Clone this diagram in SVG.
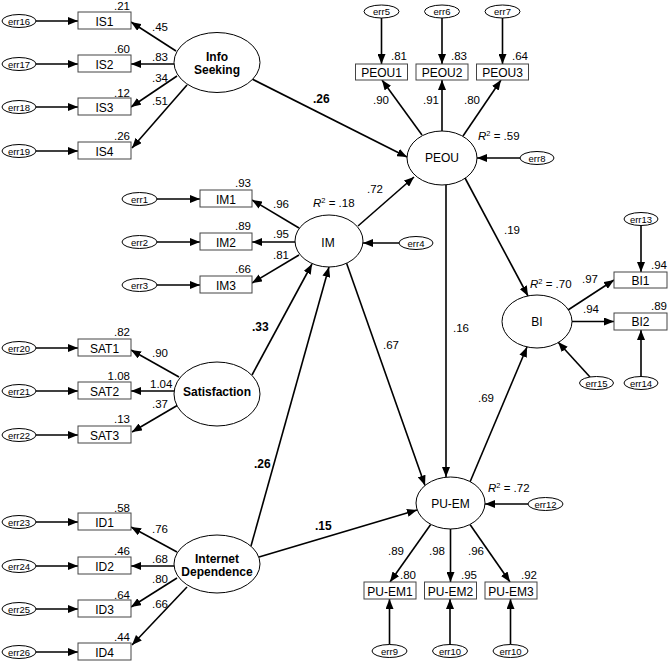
<svg xmlns="http://www.w3.org/2000/svg" width="668" height="661" viewBox="0 0 668 661">
<defs>
<marker id="ah" markerWidth="10" markerHeight="8" refX="10" refY="4" orient="auto" markerUnits="userSpaceOnUse"><path d="M0,0 L10,4 L0,8 z" fill="#000"/></marker>
<style>
.e{stroke:#000;stroke-width:1.6;fill:none;marker-end:url(#ah)}
.box{fill:#fff;stroke:#444;stroke-width:1}
.lat{fill:#fff;stroke:#000;stroke-width:1}
.err{fill:#fff;stroke:#000;stroke-width:1}
text{font-family:"Liberation Sans",Arial,sans-serif;font-size:11.5px;fill:#000}
.r{text-anchor:end}
.m{text-anchor:middle}
.bl{font-size:12px}
.b{font-weight:bold;font-size:12px}
.et{font-size:9.5px;text-anchor:middle}
.sup{font-size:7.5px}
.it{font-style:italic}
</style>
</defs>
<rect width="668" height="661" fill="#fff"/>

<g id="connectors">
<line class="e" x1="36" y1="21" x2="78" y2="21"/>
<line class="e" x1="36" y1="64" x2="78" y2="64"/>
<line class="e" x1="36" y1="107" x2="78" y2="107"/>
<line class="e" x1="36" y1="151" x2="78" y2="151"/>
<line class="e" x1="157" y1="199" x2="200" y2="199"/>
<line class="e" x1="157" y1="242" x2="200" y2="242"/>
<line class="e" x1="157" y1="285" x2="200" y2="285"/>
<line class="e" x1="36" y1="348" x2="78" y2="348"/>
<line class="e" x1="36" y1="391" x2="78" y2="391"/>
<line class="e" x1="36" y1="435" x2="78" y2="435"/>
<line class="e" x1="36" y1="522" x2="78" y2="522"/>
<line class="e" x1="36" y1="566" x2="78" y2="566"/>
<line class="e" x1="36" y1="609" x2="78" y2="609"/>
<line class="e" x1="36" y1="652" x2="78" y2="652"/>
<line class="e" x1="176" y1="51" x2="131" y2="22"/>
<line class="e" x1="174" y1="64" x2="131" y2="64"/>
<line class="e" x1="177" y1="76" x2="131" y2="107"/>
<line class="e" x1="187" y1="85" x2="132" y2="148"/>
<line class="e" x1="299" y1="228" x2="252" y2="200"/>
<line class="e" x1="295" y1="242" x2="252" y2="242"/>
<line class="e" x1="299" y1="255" x2="252" y2="283"/>
<line class="e" x1="179" y1="377" x2="131" y2="350"/>
<line class="e" x1="174" y1="391" x2="131" y2="391"/>
<line class="e" x1="178" y1="405" x2="132" y2="432"/>
<line class="e" x1="177" y1="552" x2="131" y2="527"/>
<line class="e" x1="174" y1="566" x2="131" y2="566"/>
<line class="e" x1="177" y1="578" x2="131" y2="607"/>
<line class="e" x1="187" y1="587" x2="132" y2="645"/>
<line class="e" x1="252" y1="79" x2="407" y2="157"/>
<line class="e" x1="358" y1="226" x2="414" y2="177"/>
<line class="e" x1="399" y1="243" x2="363" y2="243"/>
<line class="e" x1="346.5" y1="263" x2="425" y2="485.5"/>
<line class="e" x1="252" y1="375" x2="312" y2="264"/>
<line class="e" x1="251" y1="546" x2="329" y2="267"/>
<line class="e" x1="259" y1="557" x2="417" y2="510"/>
<line class="e" x1="422" y1="135" x2="382" y2="80"/>
<line class="e" x1="442" y1="131" x2="442" y2="80"/>
<line class="e" x1="463" y1="136" x2="501" y2="80"/>
<line class="e" x1="381.5" y1="18" x2="381.5" y2="64"/>
<line class="e" x1="442" y1="18" x2="442" y2="64"/>
<line class="e" x1="502.5" y1="18" x2="502.5" y2="64"/>
<line class="e" x1="520" y1="158" x2="477" y2="158"/>
<line class="e" x1="465" y1="178" x2="528" y2="296"/>
<line class="e" x1="446" y1="185" x2="446" y2="477"/>
<line class="e" x1="470" y1="482" x2="527" y2="347"/>
<line class="e" x1="568" y1="310" x2="614" y2="280"/>
<line class="e" x1="572" y1="321.5" x2="614" y2="321.5"/>
<line class="e" x1="641" y1="226" x2="641" y2="272"/>
<line class="e" x1="641" y1="376.5" x2="641" y2="330"/>
<line class="e" x1="590" y1="377" x2="558" y2="342"/>
<line class="e" x1="528" y1="504" x2="485" y2="504"/>
<line class="e" x1="430.7" y1="524.5" x2="390" y2="582"/>
<line class="e" x1="450.5" y1="529" x2="450.5" y2="582"/>
<line class="e" x1="470" y1="524.5" x2="510" y2="582"/>
<line class="e" x1="389.5" y1="644.5" x2="389.5" y2="599"/>
<line class="e" x1="450" y1="644.5" x2="450" y2="599"/>
<line class="e" x1="510.5" y1="644.5" x2="510.5" y2="599"/>
<text x="152" y="31">.45</text>
<text x="152" y="61">.83</text>
<text x="152" y="82">.34</text>
<text x="152" y="105">.51</text>
<text x="273" y="208">.96</text>
<text x="273" y="238">.95</text>
<text x="273" y="259">.81</text>
<text x="152" y="357">.90</text>
<text x="150" y="388">1.04</text>
<text x="152" y="408">.37</text>
<text x="152" y="533">.76</text>
<text x="152" y="563">.68</text>
<text x="152" y="583">.80</text>
<text x="152" y="608">.66</text>
<text class="b" x="313" y="103">.26</text>
<text x="367" y="193">.72</text>
<text class="b" x="252" y="331">.33</text>
<text class="b" x="254" y="468">.26</text>
<text class="b" x="315" y="530">.15</text>
<text x="383" y="349">.67</text>
<text x="453" y="332">.16</text>
<text x="504" y="234">.19</text>
<text x="478" y="402">.69</text>
<text x="373" y="104">.90</text>
<text x="423" y="104">.91</text>
<text x="464" y="104">.80</text>
<text x="582" y="283">.97</text>
<text x="583" y="313">.94</text>
<text x="388" y="555">.89</text>
<text x="429" y="555">.98</text>
<text x="468" y="555">.96</text>
</g>

<g id="IS1"><rect class="box" x="78" y="12" width="53" height="17"/><text class="m bl" x="104.5" y="25.5">IS1</text><text class="r" x="130" y="10">.21</text></g>
<g id="IS2"><rect class="box" x="78" y="55" width="53" height="17"/><text class="m bl" x="104.5" y="68.5">IS2</text><text class="r" x="130" y="53">.60</text></g>
<g id="IS3"><rect class="box" x="78" y="98" width="53" height="17"/><text class="m bl" x="104.5" y="111.5">IS3</text><text class="r" x="130" y="96.5">.12</text></g>
<g id="IS4"><rect class="box" x="78" y="142" width="53" height="17"/><text class="m bl" x="104.5" y="155.5">IS4</text><text class="r" x="130" y="140">.26</text></g>
<g id="err16"><ellipse class="err" cx="19" cy="21" rx="17" ry="6.5"/><text class="et" x="19" y="24.5">err16</text></g>
<g id="err17"><ellipse class="err" cx="19" cy="64" rx="17" ry="6.5"/><text class="et" x="19" y="67.5">err17</text></g>
<g id="err18"><ellipse class="err" cx="19" cy="107" rx="17" ry="6.5"/><text class="et" x="19" y="110.5">err18</text></g>
<g id="err19"><ellipse class="err" cx="19" cy="151" rx="17" ry="6.5"/><text class="et" x="19" y="154.5">err19</text></g>

<g id="IM1"><rect class="box" x="200" y="190" width="52" height="17"/><text class="m bl" x="226" y="203.5">IM1</text><text class="r" x="251" y="187">.93</text></g>
<g id="IM2"><rect class="box" x="200" y="233" width="52" height="17"/><text class="m bl" x="226" y="246.5">IM2</text><text class="r" x="251" y="230">.89</text></g>
<g id="IM3"><rect class="box" x="200" y="276" width="52" height="17"/><text class="m bl" x="226" y="289.5">IM3</text><text class="r" x="251" y="273">.66</text></g>
<g id="err1"><ellipse class="err" cx="139.5" cy="199" rx="17.5" ry="6.5"/><text class="et" x="139.5" y="202.5">err1</text></g>
<g id="err2"><ellipse class="err" cx="139.5" cy="242" rx="17.5" ry="6.5"/><text class="et" x="139.5" y="245.5">err2</text></g>
<g id="err3"><ellipse class="err" cx="139.5" cy="285" rx="17.5" ry="6.5"/><text class="et" x="139.5" y="288.5">err3</text></g>

<g id="SAT1"><rect class="box" x="78" y="339" width="53" height="17"/><text class="m bl" x="104.5" y="352.5">SAT1</text><text class="r" x="130" y="336">.82</text></g>
<g id="SAT2"><rect class="box" x="78" y="382" width="53" height="17"/><text class="m bl" x="104.5" y="395.5">SAT2</text><text class="r" x="130" y="380">1.08</text></g>
<g id="SAT3"><rect class="box" x="78" y="426" width="53" height="17"/><text class="m bl" x="104.5" y="439.5">SAT3</text><text class="r" x="130" y="423">.13</text></g>
<g id="err20"><ellipse class="err" cx="19" cy="348" rx="17" ry="6.5"/><text class="et" x="19" y="351.5">err20</text></g>
<g id="err21"><ellipse class="err" cx="19" cy="391" rx="17" ry="6.5"/><text class="et" x="19" y="394.5">err21</text></g>
<g id="err22"><ellipse class="err" cx="19" cy="435" rx="17" ry="6.5"/><text class="et" x="19" y="438.5">err22</text></g>

<g id="ID1"><rect class="box" x="78" y="513" width="53" height="17"/><text class="m bl" x="104.5" y="526.5">ID1</text><text class="r" x="130" y="511.5">.58</text></g>
<g id="ID2"><rect class="box" x="78" y="557" width="53" height="17"/><text class="m bl" x="104.5" y="570.5">ID2</text><text class="r" x="130" y="555">.46</text></g>
<g id="ID3"><rect class="box" x="78" y="600" width="53" height="17"/><text class="m bl" x="104.5" y="613.5">ID3</text><text class="r" x="130" y="598.5">.64</text></g>
<g id="ID4"><rect class="box" x="78" y="643" width="53" height="17"/><text class="m bl" x="104.5" y="656.5">ID4</text><text class="r" x="130" y="641">.44</text></g>
<g id="err23"><ellipse class="err" cx="19" cy="522" rx="17" ry="6.5"/><text class="et" x="19" y="525.5">err23</text></g>
<g id="err24"><ellipse class="err" cx="19" cy="566" rx="17" ry="6.5"/><text class="et" x="19" y="569.5">err24</text></g>
<g id="err25"><ellipse class="err" cx="19" cy="609" rx="17" ry="6.5"/><text class="et" x="19" y="612.5">err25</text></g>
<g id="err26"><ellipse class="err" cx="19" cy="652" rx="17" ry="6.5"/><text class="et" x="19" y="655.5">err26</text></g>

<g id="InfoSeeking"><ellipse class="lat" cx="217" cy="62.5" rx="43" ry="30"/><text class="m b" x="217" y="61">Info</text><text class="m b" x="217" y="74">Seeking</text></g>
<g id="Satisfaction"><ellipse class="lat" cx="217" cy="394" rx="43" ry="32"/><text class="m b" x="217" y="396">Satisfaction</text></g>
<g id="InternetDependence"><ellipse class="lat" cx="217" cy="564" rx="43" ry="29"/><text class="m b" x="217" y="563">Internet</text><text class="m b" x="217" y="576">Dependence</text></g>
<g id="IM"><ellipse class="lat" cx="329" cy="241" rx="34" ry="26"/><text class="m bl" x="328" y="247">IM</text><text x="313" y="207"><tspan class="it">R</tspan><tspan class="sup" dy="-4">2</tspan><tspan dy="4"> = .18</tspan></text></g>
<g id="err4"><ellipse class="err" cx="416" cy="243" rx="17" ry="6.5"/><text class="et" x="416" y="246.5">err4</text></g>

<g id="PEOU"><ellipse class="lat" cx="442" cy="158" rx="35" ry="27"/><text class="m bl" x="442" y="162">PEOU</text><text x="478" y="140"><tspan class="it">R</tspan><tspan class="sup" dy="-4">2</tspan><tspan dy="4"> = .59</tspan></text></g>
<g id="err8"><ellipse class="err" cx="537" cy="158" rx="17" ry="6.5"/><text class="et" x="537" y="161.5">err8</text></g>
<g id="PEOU1"><rect class="box" x="355.5" y="64" width="52" height="16"/><text class="m bl" x="381.5" y="76.5">PEOU1</text><text class="r" x="407" y="60">.81</text></g>
<g id="PEOU2"><rect class="box" x="416" y="64" width="52" height="16"/><text class="m bl" x="442" y="76.5">PEOU2</text><text class="r" x="467" y="60">.83</text></g>
<g id="PEOU3"><rect class="box" x="476.5" y="64" width="52" height="16"/><text class="m bl" x="502.5" y="76.5">PEOU3</text><text class="r" x="528" y="60">.64</text></g>
<g id="err5"><ellipse class="err" cx="381.5" cy="11.5" rx="17.5" ry="6.5"/><text class="et" x="381.5" y="15">err5</text></g>
<g id="err6"><ellipse class="err" cx="442" cy="11.5" rx="17.5" ry="6.5"/><text class="et" x="442" y="15">err6</text></g>
<g id="err7"><ellipse class="err" cx="502.5" cy="11.5" rx="17.5" ry="6.5"/><text class="et" x="502.5" y="15">err7</text></g>

<g id="BI"><ellipse class="lat" cx="537" cy="321.5" rx="35" ry="26.5"/><text class="m bl" x="537" y="326">BI</text><text x="530" y="288"><tspan class="it">R</tspan><tspan class="sup" dy="-4">2</tspan><tspan dy="4"> = .70</tspan></text></g>
<g id="BI1"><rect class="box" x="614" y="272" width="53" height="16"/><text class="m bl" x="640.5" y="284.5">BI1</text><text class="r" x="667" y="268.5">.94</text></g>
<g id="BI2"><rect class="box" x="614" y="313" width="53" height="17"/><text class="m bl" x="640.5" y="326">BI2</text><text class="r" x="667" y="310">.89</text></g>
<g id="err13"><ellipse class="err" cx="641" cy="219" rx="17" ry="6.5"/><text class="et" x="641" y="222.5">err13</text></g>
<g id="err14"><ellipse class="err" cx="641" cy="383" rx="17" ry="6.5"/><text class="et" x="641" y="386.5">err14</text></g>
<g id="err15"><ellipse class="err" cx="596.5" cy="383" rx="17" ry="6.5"/><text class="et" x="596.5" y="386.5">err15</text></g>

<g id="PU-EM"><ellipse class="lat" cx="450.5" cy="503" rx="34.5" ry="26"/><text class="m bl" x="450.5" y="508">PU-EM</text><text x="488" y="492"><tspan class="it">R</tspan><tspan class="sup" dy="-4">2</tspan><tspan dy="4"> = .72</tspan></text></g>
<g id="err12"><ellipse class="err" cx="545.5" cy="504" rx="17.5" ry="6.5"/><text class="et" x="545.5" y="507.5">err12</text></g>
<g id="PU-EM1"><rect class="box" x="364" y="582" width="52" height="17"/><text class="m bl" x="390" y="595.5">PU-EM1</text><text class="r" x="416" y="579">.80</text></g>
<g id="PU-EM2"><rect class="box" x="424.5" y="582" width="52" height="17"/><text class="m bl" x="450.5" y="595.5">PU-EM2</text><text class="r" x="477" y="579">.95</text></g>
<g id="PU-EM3"><rect class="box" x="485" y="582" width="52" height="17"/><text class="m bl" x="511" y="595.5">PU-EM3</text><text class="r" x="537" y="579">.92</text></g>
<g id="err9"><ellipse class="err" cx="389.5" cy="651" rx="17.5" ry="6.5"/><text class="et" x="389.5" y="654.5">err9</text></g>
<g id="err10a"><ellipse class="err" cx="450" cy="651" rx="17.5" ry="6.5"/><text class="et" x="450" y="654.5">err10</text></g>
<g id="err10b"><ellipse class="err" cx="510.5" cy="651" rx="17.5" ry="6.5"/><text class="et" x="510.5" y="654.5">err10</text></g>
</svg>
